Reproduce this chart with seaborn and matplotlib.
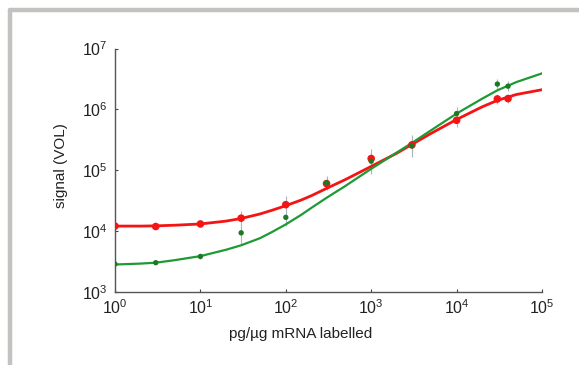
import numpy as np
import pandas as pd
import matplotlib
matplotlib.use('Agg')
import matplotlib.pyplot as plt
from matplotlib.lines import Line2D
import seaborn as sns

# measured points (pg/ug mRNA labelled vs signal)
dose = [1, 3, 10, 30, 100, 300, 1000, 3000, 10000, 30000, 40000]
red_signal = [1.2e4, 1.18e4, 1.3e4, 1.62e4, 2.7e4, 6.0e4, 1.55e5, 2.6e5, 6.6e5, 1.48e6, 1.5e6]
green_signal = [2.85e3, 3.0e3, 3.8e3, 9.3e3, 1.67e4, 6.2e4, 1.4e5, 2.5e5, 8.5e5, 2.6e6, 2.4e6]
# relative spread of the replicates (multiplicative)
red_spread = [1.05, 1.05, 1.05, 1.3, 1.4, 1.2, 1.2, 1.3, 1.3, 1.2, 1.2]
green_spread = [1.05, 1.05, 1.1, 1.5, 1.4, 1.3, 1.6, 1.5, 1.3, 1.2, 1.2]

# fitted curves
fit_dose = [1, 2, 3, 5, 10, 20, 30, 50, 70, 100, 150, 200, 300, 500, 1000,
            2000, 3000, 5000, 10000, 20000, 30000, 50000, 100000]
red_fit = [1.2e4, 1.2e4, 1.21e4, 1.24e4, 1.3e4, 1.45e4, 1.6e4, 1.9e4, 2.2e4, 2.6e4, 3.2e4,
           3.8e4, 5.0e4, 7.0e4, 1.15e5, 1.9e5, 2.65e5, 4.0e5, 6.8e5, 1.1e6, 1.4e6,
           1.75e6, 2.1e6]
green_fit = [2.8e3, 2.9e3, 3.0e3, 3.3e3, 3.85e3, 4.9e3, 5.8e3, 7.6e3, 9.7e3, 1.28e4, 1.82e4,
             2.4e4, 3.5e4, 5.5e4, 1.05e5, 1.95e5, 2.8e5, 4.5e5, 8.5e5, 1.5e6, 2.05e6,
             2.8e6, 3.9e6]

red = '#f41414'
green = '#1e9a34'
green_dot = '#1c7a22'

sns.set_style('ticks')
plt.rcParams['font.family'] = ['Liberation Sans', 'DejaVu Sans']
plt.rcParams['mathtext.default'] = 'regular'

fig = plt.figure(figsize=(5.79, 3.65), dpi=100)
ax = fig.add_axes([115 / 579, 1 - 291.7 / 365, 427 / 579, 243.2 / 365])

fits = pd.DataFrame({'dose': fit_dose, 'red': red_fit, 'green': green_fit})
pts = pd.DataFrame({'dose': dose, 'red': red_signal, 'green': green_signal})

# error bars
for col, spread in [('red', red_spread), ('green', green_spread)]:
    y = pts[col].values
    s = np.array(spread)
    ax.errorbar(pts['dose'], y, yerr=[y - y / s, y * s - y], fmt='none',
                ecolor='#a9b4bc', elinewidth=0.8, capsize=0, linestyle=':', zorder=1)

sns.lineplot(data=fits, x='dose', y='red', color=red, linewidth=2.0, ax=ax, zorder=2)
sns.lineplot(data=fits, x='dose', y='green', color=green, linewidth=1.6, ax=ax, zorder=3)
sns.scatterplot(data=pts, x='dose', y='red', color=red, s=30, edgecolor='none', ax=ax, zorder=4)
sns.scatterplot(data=pts, x='dose', y='green', color=green_dot, s=15, edgecolor='none', ax=ax, zorder=5)

ax.set_xscale('log')
ax.set_yscale('log')
ax.set_xlim(1, 1e5)
ax.set_ylim(1e3, 1e7)
ax.set_xticks([1, 10, 100, 1e3, 1e4, 1e5])
ax.set_yticks([1e3, 1e4, 1e5, 1e6, 1e7])
ax.minorticks_off()
ax.tick_params(axis='both', direction='in', length=2.5, width=0.8, colors='#444444',
               labelsize=11.5, labelcolor='#222222', pad=5)

for side in ['top', 'right']:
    ax.spines[side].set_visible(False)
for side in ['left', 'bottom']:
    ax.spines[side].set_color('#555555')
    ax.spines[side].set_linewidth(1.0)

ax.set_xlabel('pg/\u00b5g mRNA labelled', fontsize=11, color='#222222')
ax.xaxis.set_label_coords(0.435, -0.145)
ax.set_ylabel('signal (VOL)', fontsize=11, color='#222222')
ax.yaxis.set_label_coords(-0.11, 0.52)

# grey frame from the page the figure was clipped from
fig.add_artist(Line2D([10 / 579, 1], [1 - 10 / 365, 1 - 10 / 365], transform=fig.transFigure,
                      color='#c2c2c0', linewidth=3.2))
fig.add_artist(Line2D([10 / 579, 10 / 579], [0, 1 - 10 / 365], transform=fig.transFigure,
                      color='#c2c2c0', linewidth=3.2))

plt.savefig('out.png', dpi=100)
